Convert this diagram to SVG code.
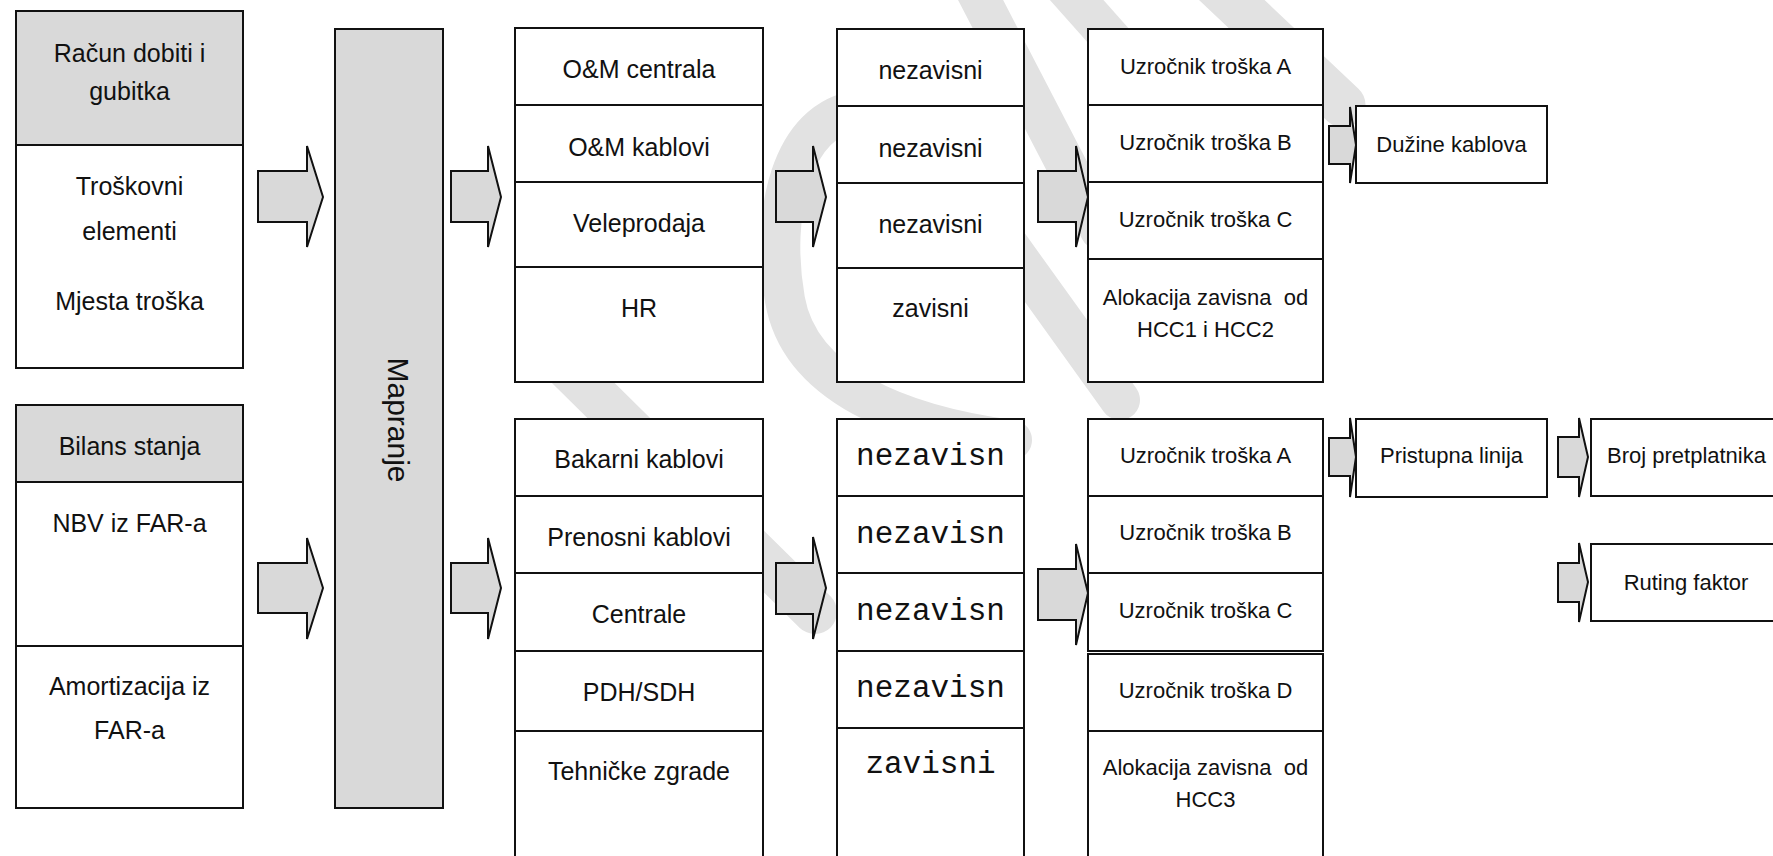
<svg xmlns="http://www.w3.org/2000/svg" width="1773" height="856" viewBox="0 0 1773 856">
<style>
.bg{fill:#ffffff}
.wm{fill:none;stroke:#e2e2e2;stroke-linecap:round}
.box{fill:#ffffff;stroke:#111111;stroke-width:2}
.hdr{fill:#d9d9d9;stroke:#111111;stroke-width:2}
.div{stroke:#111111;stroke-width:2;fill:none}
.arr{fill:#d9d9d9;stroke:#111111;stroke-width:2;stroke-linejoin:miter}
.t{font-family:"Liberation Sans",Arial,sans-serif;fill:#111111;text-anchor:middle;white-space:pre}
.s25{font-size:25px}
.s22{font-size:22px}
.s30{font-size:30px}
.m{font-family:"Liberation Mono","Courier New",monospace;font-size:31px;fill:#111111;text-anchor:middle}
</style>
<rect class="bg" x="0" y="0" width="1773" height="856"/>
<g id="watermark">
<path class="wm" stroke-width="40" d="M 1012 440 C 900 425, 800 385, 785 300 C 770 215, 790 118, 860 110 C 930 104, 975 190, 1005 240 L 1120 400"/>
<path class="wm" stroke-width="44" d="M 555 355 L 815 612"/>
<path class="wm" stroke-width="40" d="M 965 -30 L 1100 230"/>
<path class="wm" stroke-width="40" d="M 1050 -30 L 1130 60"/>
<path class="wm" stroke-width="45" d="M 1200 -30 L 1343 105"/>
</g>
<g id="racun">
<rect class="box" x="16" y="11" width="227" height="357"/>
<rect class="hdr" x="16" y="11" width="227" height="134"/>
<text class="t s25" x="129.5" y="62">Račun dobiti i</text>
<text class="t s25" x="129.5" y="100">gubitka</text>
<text class="t s25" x="129.5" y="195">Troškovni</text>
<text class="t s25" x="129.5" y="240">elementi</text>
<text class="t s25" x="129.5" y="310">Mjesta troška</text>
</g>
<g id="bilans">
<rect class="box" x="16" y="405" width="227" height="403"/>
<rect class="hdr" x="16" y="405" width="227" height="77"/>
<line class="div" x1="16" y1="646" x2="243" y2="646"/>
<text class="t s25" x="129.5" y="455">Bilans stanja</text>
<text class="t s25" x="129.5" y="532">NBV iz FAR-a</text>
<text class="t s25" x="129.5" y="695">Amortizacija iz</text>
<text class="t s25" x="129.5" y="739">FAR-a</text>
</g>
<g id="mapranje">
<rect class="hdr" x="335" y="29" width="108" height="779"/>
<text class="t s30" transform="translate(388,420) rotate(90)">Mapranje</text>
</g>
<g id="om-top">
<rect class="box" x="515" y="28" width="248" height="354"/>
<line class="div" x1="515" y1="105" x2="763" y2="105"/>
<line class="div" x1="515" y1="182" x2="763" y2="182"/>
<line class="div" x1="515" y1="267" x2="763" y2="267"/>
<text class="t s25" x="639" y="78">O&amp;M centrala</text>
<text class="t s25" x="639" y="156">O&amp;M kablovi</text>
<text class="t s25" x="639" y="232">Veleprodaja</text>
<text class="t s25" x="639" y="317">HR</text>
</g>
<g id="nez-top">
<rect class="box" x="837" y="29" width="187" height="353"/>
<line class="div" x1="837" y1="106" x2="1024" y2="106"/>
<line class="div" x1="837" y1="183" x2="1024" y2="183"/>
<line class="div" x1="837" y1="268" x2="1024" y2="268"/>
<text class="t s25" x="930.5" y="79">nezavisni</text>
<text class="t s25" x="930.5" y="157">nezavisni</text>
<text class="t s25" x="930.5" y="233">nezavisni</text>
<text class="t s25" x="930.5" y="317">zavisni</text>
</g>
<g id="uzr-top">
<rect class="box" x="1088" y="29" width="235" height="353"/>
<line class="div" x1="1088" y1="105" x2="1323" y2="105"/>
<line class="div" x1="1088" y1="182" x2="1323" y2="182"/>
<line class="div" x1="1088" y1="259" x2="1323" y2="259"/>
<text class="t s22" x="1205.5" y="74">Uzročnik troška A</text>
<text class="t s22" x="1205.5" y="150">Uzročnik troška B</text>
<text class="t s22" x="1205.5" y="227">Uzročnik troška C</text>
<text class="t s22" x="1205.5" y="305">Alokacija zavisna  od</text>
<text class="t s22" x="1205.5" y="337">HCC1 i HCC2</text>
</g>
<g id="duzine">
<rect class="box" x="1356" y="106" width="191" height="77"/>
<text class="t s22" x="1451.5" y="152">Dužine kablova</text>
</g>
<g id="om-bottom">
<rect class="box" x="515" y="419" width="248" height="460"/>
<line class="div" x1="515" y1="496" x2="763" y2="496"/>
<line class="div" x1="515" y1="573" x2="763" y2="573"/>
<line class="div" x1="515" y1="651" x2="763" y2="651"/>
<line class="div" x1="515" y1="731" x2="763" y2="731"/>
<text class="t s25" x="639" y="468">Bakarni kablovi</text>
<text class="t s25" x="639" y="546">Prenosni kablovi</text>
<text class="t s25" x="639" y="623">Centrale</text>
<text class="t s25" x="639" y="701">PDH/SDH</text>
<text class="t s25" x="639" y="780">Tehničke zgrade</text>
</g>
<g id="nez-bottom">
<rect class="box" x="837" y="419" width="187" height="460"/>
<line class="div" x1="837" y1="496" x2="1024" y2="496"/>
<line class="div" x1="837" y1="573" x2="1024" y2="573"/>
<line class="div" x1="837" y1="651" x2="1024" y2="651"/>
<line class="div" x1="837" y1="728" x2="1024" y2="728"/>
<text class="m" x="930.5" y="465">nezavisn</text>
<text class="m" x="930.5" y="543">nezavisn</text>
<text class="m" x="930.5" y="620">nezavisn</text>
<text class="m" x="930.5" y="697">nezavisn</text>
<text class="m" x="930.5" y="773">zavisni</text>
</g>
<g id="uzr-bottom">
<rect class="box" x="1088" y="419" width="235" height="232"/>
<line class="div" x1="1088" y1="496" x2="1323" y2="496"/>
<line class="div" x1="1088" y1="573" x2="1323" y2="573"/>
<rect class="box" x="1088" y="654" width="235" height="225"/>
<line class="div" x1="1088" y1="731" x2="1323" y2="731"/>
<text class="t s22" x="1205.5" y="463">Uzročnik troška A</text>
<text class="t s22" x="1205.5" y="540">Uzročnik troška B</text>
<text class="t s22" x="1205.5" y="618">Uzročnik troška C</text>
<text class="t s22" x="1205.5" y="698">Uzročnik troška D</text>
<text class="t s22" x="1205.5" y="775">Alokacija zavisna  od</text>
<text class="t s22" x="1205.5" y="807">HCC3</text>
</g>
<g id="pristupna">
<rect class="box" x="1356" y="419" width="191" height="78"/>
<text class="t s22" x="1451.5" y="463">Pristupna linija</text>
</g>
<g id="broj">
<rect class="box" x="1591" y="419" width="200" height="77"/>
<text class="t s22" x="1686.5" y="463">Broj pretplatnika</text>
</g>
<g id="ruting">
<rect class="box" x="1591" y="544" width="200" height="77"/>
<text class="t s22" x="1686" y="590">Ruting faktor</text>
</g>
<g id="connectors">
<polygon class="arr" points="258,171 307,171 307,146 323,197 307,247 307,222 258,222"/>
<polygon class="arr" points="258,563 307,563 307,538 323,588 307,639 307,613 258,613"/>
<polygon class="arr" points="451,171 488,171 488,146 501,197 488,247 488,222 451,222"/>
<polygon class="arr" points="451,563 488,563 488,538 501,588 488,639 488,613 451,613"/>
<polygon class="arr" points="776,171 813,171 813,146 826,197 813,247 813,222 776,222"/>
<polygon class="arr" points="776,563 813,563 813,537 826,588 813,639 813,614 776,614"/>
<polygon class="arr" points="1038,171 1076,171 1076,146 1088,197 1076,247 1076,222 1038,222"/>
<polygon class="arr" points="1038,569 1076,569 1076,544 1088,593 1076,645 1076,620 1038,620"/>
<polygon class="arr" points="1329,126 1350,126 1350,107 1356,145 1350,183 1350,164 1329,164"/>
<polygon class="arr" points="1329,438 1350,438 1350,418 1356,457 1350,497 1350,476 1329,476"/>
<polygon class="arr" points="1558,437 1579,437 1579,418 1588,457 1579,497 1579,477 1558,477"/>
<polygon class="arr" points="1558,563 1579,563 1579,543 1588,582 1579,622 1579,602 1558,602"/>
</g>
</svg>
